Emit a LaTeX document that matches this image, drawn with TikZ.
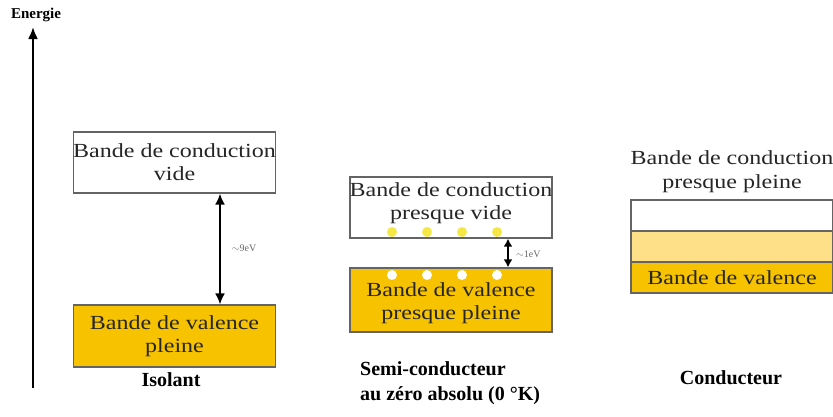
\documentclass[tikz,border=0pt]{standalone}
\usepackage{fontspec}
\setmainfont{Liberation Serif}
\newfontfamily\bandfont[FakeStretch=1.2]{Liberation Serif}
\usepackage{tikz}
\usetikzlibrary{arrows.meta}
\usetikzlibrary{calc}
\usetikzlibrary{positioning}
\definecolor{valence}{RGB}{247,195,0}
\definecolor{partial}{RGB}{253,224,135}
\definecolor{dotyellow}{RGB}{245,232,70}
\definecolor{edge}{RGB}{100,100,100}
\tikzstyle{band} = [draw=edge, line width=1.3pt, minimum width=202pt, inner sep=0pt, align=center, text=black!85, font=\bandfont\fontsize{20}{23}\selectfont]
\tikzstyle{bandtext} = [inner sep=0pt, align=center, text=black!85, font=\bandfont\fontsize{20}{23}\selectfont]
\tikzstyle{title} = [align=left, inner sep=0pt, font=\bfseries\fontsize{20}{25}\selectfont]
\tikzstyle{gap} = [inner sep=0pt, text=black!60, font=\fontsize{10}{12}\selectfont]
\tikzstyle{jump} = [{Latex[length=11pt,width=10pt]}-{Latex[length=11pt,width=10pt]}, line width=1.8pt]

\begin{document}
\begin{tikzpicture}[x=1pt, y=-1pt]
	\useasboundingbox (0,0) rectangle (833,416);

	% axe des energies
	\coordinate (e0) at (33,388) ;
	\coordinate (e1) at (33,27) ;
	\draw[-{Latex[length=12pt,width=10pt]}, line width=2.2pt] (e0) -- (e1) ;
	\node[inner sep=0pt, font=\bfseries\fontsize{15}{17}\selectfont] (energie) at (36,15) {Energie} ;

	% isolant
	\node[band, minimum height=61pt] (ic) at (174.5,162.5) {Bande de conduction\\vide} ;
	\node[band, minimum height=62pt, fill=valence] (iv) at (174.5,336) {Bande de valence\\pleine} ;
	\draw[jump] ([xshift=45.5pt]ic.south) -- ([xshift=45.5pt]iv.north) ;
	\node[gap] (g9) at (244,248) {$\sim$9eV} ;
	\node[title] (isolant) at (171,380) {Isolant} ;

	% semi-conducteur
	\node[band, minimum height=61pt] (sc) at (451,207.5) {} ;
	\node[band, minimum height=64pt, fill=valence] (sv) at (451,300) {} ;
	\node[bandtext] (sctext) at ([yshift=4pt]sc.center) {Bande de conduction\\presque vide} ;
	\node[bandtext] (svtext) at ([yshift=-3.5pt]sv.center) {Bande de valence\\presque pleine} ;
	\foreach \x in {392,427,462,497} {
		\fill[dotyellow] (\x,232) circle (5pt) ;
		\fill[white] (\x,275) circle (5pt) ;
	}
	\draw[{Latex[length=8pt,width=9pt]}-{Latex[length=8pt,width=9pt]}, line width=1.8pt] ([xshift=57pt]sc.south) -- ([xshift=57pt]sv.north) ;
	\node[gap, anchor=west] (g1) at (516,254) {$\sim$1eV} ;
	\node[title, anchor=west] (semi) at (360,383) {Semi-conducteur\\au zéro absolu (0 °K)} ;

	% conducteur
	\node[band, minimum height=31pt] (cw) at (732,215.5) {} ;
	\node[band, minimum height=31pt, fill=partial] (cy) at (732,246.5) {} ;
	\node[band, minimum height=31pt, fill=valence] (cv) at (732,277.5) {Bande de valence} ;
	\node[bandtext, above=6pt of cw, font=\bandfont\fontsize{20}{24}\selectfont] (cl) {Bande de conduction\\presque pleine} ;
	\node[title] (conducteur) at (731,378) {Conducteur} ;
\end{tikzpicture}
\end{document}
